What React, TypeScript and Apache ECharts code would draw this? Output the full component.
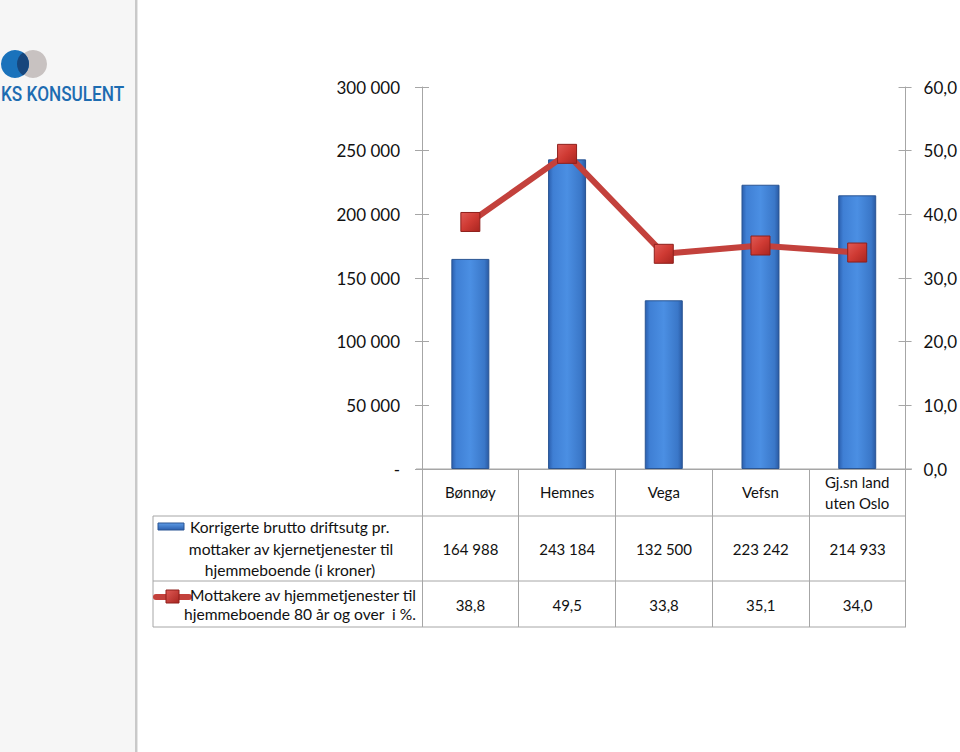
import React, { useEffect, useRef } from "react";
import * as echarts from "echarts";

const categories = ["Bønnøy", "Hemnes", "Vega", "Vefsn", "Gj.sn land\nuten Oslo"];
const costValues = [164988, 243184, 132500, 223242, 214933];
const shareValues = [38.8, 49.5, 33.8, 35.1, 34.0];
const seriesNames = [
  "Korrigerte brutto driftsutg pr.\nmottaker av kjernetjenester til\nhjemmeboende (i kroner)",
  "Mottakere av hjemmetjenester til\nhjemmeboende 80 år og over  i %.",
];

const FONT = "Lato, 'Open Sans', sans-serif";
const GRID_LEFT = 422;
const GRID_RIGHT_X = 906;
const GRID_TOP = 87;
const GRID_BOTTOM_Y = 469;
const AXIS_COLOR = "#a6a6a6";

const fmtKr = (v: number) =>
  v === 0 ? "-" : String(Math.round(v)).replace(/\B(?=(\d{3})+(?!\d))/g, " ");
const fmtPct = (v: number) => v.toFixed(1).replace(".", ",");

export default function App() {
  const ref = useRef<HTMLDivElement>(null);
  useEffect(() => {
    if (!ref.current) return;
    echarts.graphic.registerShape(
      "ksLens",
      echarts.graphic.extendPath("M23,52.5 A14,14 0 0,1 23,75.5 A14,14 0 0,1 23,52.5 Z", {})
    );
    const chart = echarts.init(ref.current, null, { renderer: "svg" });
    const cellW = (GRID_RIGHT_X - GRID_LEFT) / categories.length;
    const valueTexts: any[] = [];
    costValues.forEach((v, i) => {
      valueTexts.push({
        type: "text",
        x: GRID_LEFT + (i + 0.5) * cellW,
        y: 549,
        style: { text: fmtKr(v), fontFamily: FONT, fontSize: 15, fill: "#111", align: "center", verticalAlign: "middle" },
      });
    });
    shareValues.forEach((v, i) => {
      valueTexts.push({
        type: "text",
        x: GRID_LEFT + (i + 0.5) * cellW,
        y: 605,
        style: { text: fmtPct(v), fontFamily: FONT, fontSize: 15, fill: "#111", align: "center", verticalAlign: "middle" },
      });
    });
    const tableLine = (x1: number, y1: number, x2: number, y2: number) => ({
      type: "line",
      shape: { x1, y1, x2, y2 },
      style: { stroke: AXIS_COLOR, lineWidth: 1 },
      silent: true,
    });
    const l1 = seriesNames[0].split("\n");
    const l2 = seriesNames[1].split("\n");
    const legendText = (text: string, x: number, y: number, align: string) => ({
      type: "text",
      x,
      y,
      style: { text, fontFamily: FONT, fontSize: 15.6, fill: "#111", align, verticalAlign: "middle" },
    });

    const option: any = {
      animation: false,
      backgroundColor: "#ffffff",
      grid: {
        left: GRID_LEFT,
        top: GRID_TOP,
        width: GRID_RIGHT_X - GRID_LEFT,
        height: GRID_BOTTOM_Y - GRID_TOP,
        containLabel: false,
      },
      xAxis: {
        type: "category",
        data: categories,
        axisLine: { show: true, lineStyle: { color: AXIS_COLOR, width: 1 } },
        axisTick: { show: true, length: 158, lineStyle: { color: AXIS_COLOR, width: 1 } },
        axisLabel: {
          margin: 23,
          verticalAlign: "middle",
          fontFamily: FONT,
          fontSize: 15,
          color: "#111",
          lineHeight: 21,
          interval: 0,
        },
      },
      yAxis: [
        {
          type: "value",
          min: 0,
          max: 300000,
          interval: 50000,
          position: "left",
          axisLine: { show: true, lineStyle: { color: AXIS_COLOR } },
          axisTick: { show: true, length: 7, lineStyle: { color: AXIS_COLOR } },
          splitLine: { show: false },
          axisLabel: { margin: 22, fontFamily: FONT, fontSize: 17, color: "#111", formatter: (v: number) => fmtKr(v) },
        },
        {
          type: "value",
          min: 0,
          max: 60,
          interval: 10,
          position: "right",
          axisLine: { show: true, lineStyle: { color: AXIS_COLOR } },
          axisTick: { show: true, length: 6, lineStyle: { color: AXIS_COLOR } },
          splitLine: { show: false },
          axisLabel: { margin: 18, fontFamily: FONT, fontSize: 17, color: "#111", formatter: (v: number) => fmtPct(v) },
        },
        {
          type: "value",
          min: 0,
          max: 300000,
          interval: 50000,
          position: "left",
          axisLine: { show: false },
          axisTick: { show: true, inside: true, length: 7, lineStyle: { color: AXIS_COLOR } },
          splitLine: { show: false },
          axisLabel: { show: false },
        },
        {
          type: "value",
          min: 0,
          max: 60,
          interval: 10,
          position: "right",
          axisLine: { show: false },
          axisTick: { show: true, inside: true, length: 7, lineStyle: { color: AXIS_COLOR } },
          splitLine: { show: false },
          axisLabel: { show: false },
        },
      ],
      series: [
        {
          name: seriesNames[0],
          type: "bar",
          data: costValues,
          yAxisIndex: 0,
          barWidth: 38,
          itemStyle: {
            color: new echarts.graphic.LinearGradient(0, 0, 1, 0, [
              { offset: 0, color: "#2b5fae" },
              { offset: 0.12, color: "#3f7fd4" },
              { offset: 0.5, color: "#4b8fe3" },
              { offset: 0.88, color: "#3a77c8" },
              { offset: 1, color: "#2a5aa3" },
            ]),
            borderColor: "#2a5593",
            borderWidth: 1,
          },
          z: 2,
        },
        {
          name: seriesNames[1],
          type: "line",
          data: shareValues,
          yAxisIndex: 1,
          symbol: "rect",
          symbolSize: 19,
          lineStyle: { color: "#c3413c", width: 6 },
          itemStyle: {
            color: new echarts.graphic.LinearGradient(0, 0, 1, 1, [
              { offset: 0, color: "#e05a55" },
              { offset: 0.5, color: "#cf3a33" },
              { offset: 1, color: "#a82520" },
            ]),
            borderColor: "#8e1f1b",
            borderWidth: 1,
          },
          z: 5,
        },
      ],
      graphic: [
        { type: "rect", shape: { x: 0, y: 0, width: 136, height: 752 }, style: { fill: "#f6f6f6" }, silent: true },
        { type: "rect", shape: { x: 135, y: 0, width: 2, height: 752 }, style: { fill: "#c9c9c9" }, silent: true },
        { type: "rect", shape: { x: 137, y: 0, width: 1, height: 752 }, style: { fill: "#e6e6e6" }, silent: true },
        { type: "circle", shape: { cx: 33, cy: 64, r: 14 }, style: { fill: "#c8c2c1" } },
        { type: "circle", shape: { cx: 15, cy: 64, r: 14 }, style: { fill: "#1a72bb" } },
        { type: "ksLens", x: 0, y: 0, style: { fill: "#17467c" } },
        {
          type: "text",
          x: 1,
          y: 95,
          scaleX: 0.86,
          style: {
            text: "KS KONSULENT",
            fontFamily: "Roboto, sans-serif",
            fontSize: 20,
            fontWeight: 500,
            fill: "#1d6cb1",
            verticalAlign: "middle",
          },
        },
        // table borders
        tableLine(416, GRID_BOTTOM_Y, 912, GRID_BOTTOM_Y),
        tableLine(153, 516, GRID_RIGHT_X, 516),
        tableLine(153, 581, GRID_RIGHT_X, 581),
        tableLine(153, 627, GRID_RIGHT_X, 627),
        tableLine(153, 516, 153, 627),
        // legend icons
        {
          type: "rect",
          shape: { x: 158, y: 523, width: 26, height: 7 },
          style: {
            fill: new echarts.graphic.LinearGradient(0, 0, 0, 1, [
              { offset: 0, color: "#5d9be6" },
              { offset: 1, color: "#2b5fae" },
            ]),
            stroke: "#2a5593",
            lineWidth: 1,
          },
        },
        { type: "line", shape: { x1: 156, y1: 597, x2: 189, y2: 597 }, style: { stroke: "#c3413c", lineWidth: 6, lineCap: "round" } },
        {
          type: "rect",
          shape: { x: 166, y: 590, width: 13, height: 13 },
          style: {
            fill: new echarts.graphic.LinearGradient(0, 0, 1, 1, [
              { offset: 0, color: "#e05a55" },
              { offset: 1, color: "#a82520" },
            ]),
            stroke: "#8e1f1b",
            lineWidth: 1,
          },
        },
        legendText(l1[0], 190, 527, "left"),
        legendText(l1[1], 291, 549, "center"),
        legendText(l1[2], 290, 570, "center"),
        legendText(l2[0], 190, 595, "left"),
        legendText(l2[1], 300, 614, "center"),
        ...valueTexts,
      ],
    };
    chart.setOption(option);
    return () => chart.dispose();
  }, []);
  return (
    <div
      ref={ref}
      style={{ position: "fixed", left: 0, top: 0, width: 960, height: 752, background: "#fff" }}
    />
  );
}
